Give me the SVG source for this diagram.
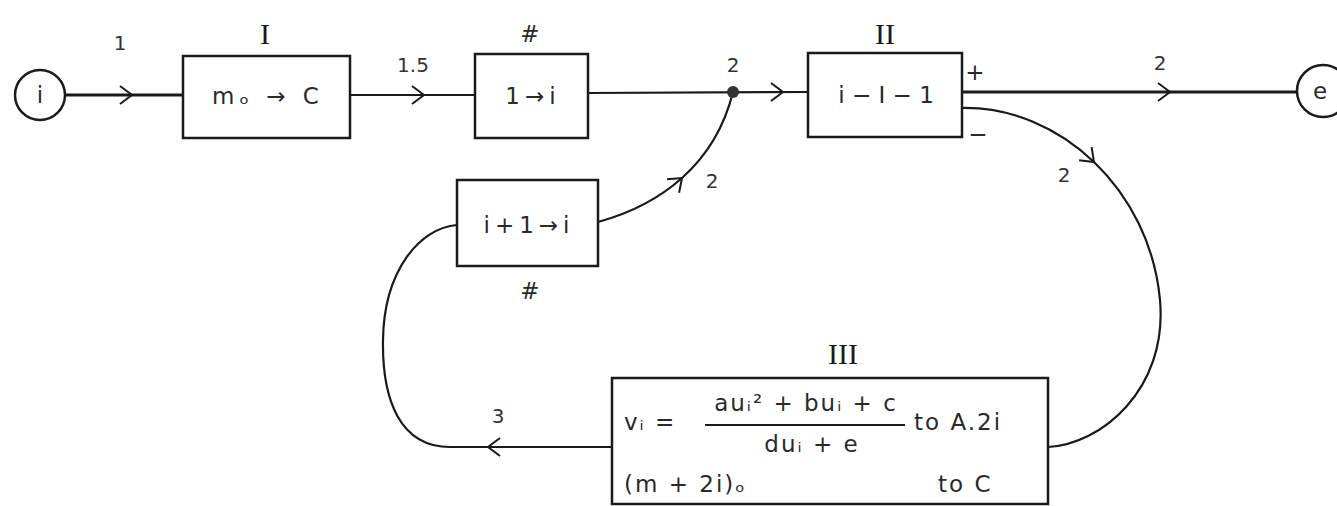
<svg xmlns="http://www.w3.org/2000/svg" width="1337" height="506" viewBox="0 0 1337 506">
<defs>
<style>
.bg{fill:#fff}
.box{fill:#fff;stroke:#1a1a1a;stroke-width:2.5}
.ln{fill:none;stroke:#1a1a1a;stroke-width:2.2}
.thk{fill:none;stroke:#1a1a1a;stroke-width:3.2}
.chev{fill:none;stroke:#1a1a1a;stroke-width:2}
.t{font-family:"DejaVu Sans","Liberation Sans",sans-serif;font-size:23px;fill:#2a2a2a;text-anchor:middle}
.w{letter-spacing:5px}
.s{font-family:"DejaVu Sans","Liberation Sans",sans-serif;font-size:20px;fill:#333;text-anchor:middle}
.r{font-family:"Liberation Serif","DejaVu Serif",serif;font-size:30px;fill:#1a1a1a;text-anchor:middle}
.f{font-family:"DejaVu Sans","Liberation Sans",sans-serif;font-size:23px;fill:#2a2a2a;letter-spacing:2px}
</style>
<path id="ch" d="M -12 -9 L 0 0 L -12 9"/>
</defs>
<rect class="bg" x="0" y="0" width="1337" height="506"/>

<g id="connectors">
<path class="thk" d="M 65 95 L 183 95"/>
<path class="ln" d="M 350 95 L 475 95"/>
<path class="ln" d="M 588 93 L 808 92"/>
<path class="thk" d="M 962 92 L 1297 92"/>
<path class="ln" d="M 962 108 C 1060 106, 1150 190, 1160 300 C 1168 390, 1100 445, 1048 447"/>
<path class="ln" d="M 612 447 L 450 447 C 400 447, 382 400, 383 340 C 384 270, 420 228, 457 225"/>
<path class="ln" d="M 598 222 C 660 205, 715 165, 733 92"/>
<circle cx="733" cy="92" r="6" fill="#333"/>
<use href="#ch" class="chev" transform="translate(132 95)"/>
<use href="#ch" class="chev" transform="translate(424 95)"/>
<use href="#ch" class="chev" transform="translate(783 92)"/>
<use href="#ch" class="chev" transform="translate(1170 92)"/>
<use href="#ch" class="chev" transform="translate(1094 162) rotate(44)"/>
<use href="#ch" class="chev" transform="translate(488 447) rotate(180)"/>
<use href="#ch" class="chev" transform="translate(682 178) rotate(-42)"/>
<text class="s" x="120" y="50">1</text>
<text class="s" x="413" y="72">1.5</text>
<text class="s" x="733" y="72">2</text>
<text class="s" x="1160" y="70">2</text>
<text class="s" x="1064" y="182">2</text>
<text class="s" x="712" y="188">2</text>
<text class="s" x="498" y="423">3</text>
<text class="t" x="975" y="80">+</text>
<text class="t" x="978" y="142">−</text>
</g>

<g id="node-i">
<circle class="box" cx="40" cy="95" r="25"/>
<text class="t" x="40" y="103">i</text>
</g>

<g id="node-I">
<rect class="box" x="183" y="56" width="167" height="82"/>
<text class="r" x="265" y="44">I</text>
<text class="t w" x="268" y="104">mₒ → C</text>
</g>

<g id="node-init">
<rect class="box" x="475" y="54" width="113" height="84"/>
<text class="t" x="530" y="42">#</text>
<text class="t w" x="533" y="104">1→i</text>
</g>

<g id="node-II">
<rect class="box" x="808" y="53" width="154" height="84"/>
<text class="r" x="885" y="44">II</text>
<text class="t" x="886" y="103">i − I − 1</text>
</g>

<g id="node-e">
<circle class="box" cx="1323" cy="91" r="26"/>
<text class="t" x="1320" y="99">e</text>
</g>

<g id="node-incr">
<rect class="box" x="457" y="180" width="141" height="86"/>
<text class="t w" x="529" y="233">i+1→i</text>
<text class="t" x="530" y="299">#</text>
</g>

<g id="node-III">
<rect class="box" x="612" y="378" width="436" height="126"/>
<text class="r" x="843" y="364">III</text>
<text class="f" x="624" y="430">vᵢ =</text>
<text class="f" x="806" y="411" text-anchor="middle">auᵢ² + buᵢ + c</text>
<line x1="705" y1="425" x2="905" y2="425" stroke="#1a1a1a" stroke-width="2"/>
<text class="f" x="812" y="452" text-anchor="middle">duᵢ + e</text>
<text class="f" x="914" y="430">to A.2i</text>
<text class="f" x="624" y="492">(m + 2i)ₒ</text>
<text class="f" x="938" y="492">to C</text>
</g>
</svg>
